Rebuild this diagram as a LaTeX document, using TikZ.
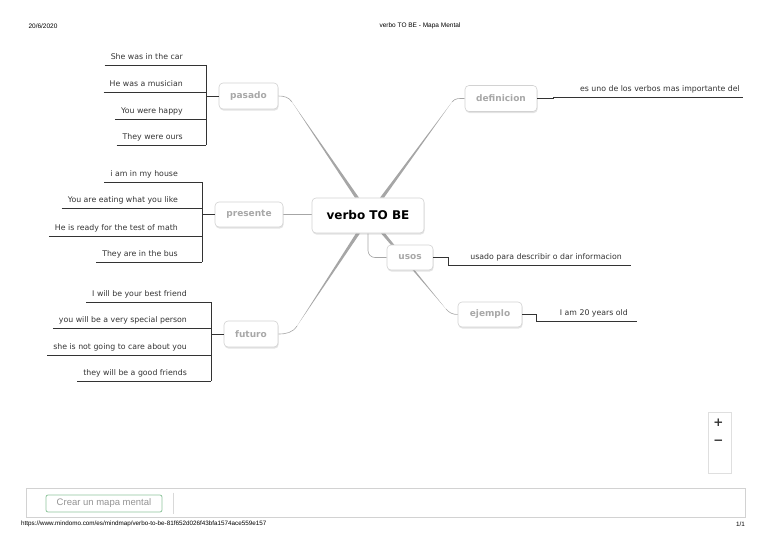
\documentclass[tikz,border=0pt]{standalone}
\usepackage{fontspec}
\setmainfont{DejaVu Sans}
\newfontfamily\arial{Liberation Sans}
\usetikzlibrary{shadows,backgrounds}

\definecolor{tinta}{HTML}{333333}
\definecolor{borde}{HTML}{D2D2D2}
\definecolor{grisrama}{HTML}{A6A6A6}
\definecolor{gristema}{HTML}{A8A8A8}
\definecolor{verdeboton}{HTML}{8DC49B}

\tikzset{
  caja/.style={draw=borde, fill=white, rounded corners=4pt, line width=0.6pt, inner sep=0pt,
    drop shadow={shadow xshift=0.6pt, shadow yshift=-1.6pt, opacity=0.22}},
  tema/.style={caja, text=gristema, font=\bfseries\fontsize{9}{10}\selectfont, minimum height=26pt},
  hoja/.style={text=tinta, font=\fontsize{7.8}{9}\selectfont, inner xsep=6pt, inner ysep=0pt,
    text height=6pt, text depth=5.5pt},
  raya/.style={draw=tinta, line width=0.75pt},
  ramagruesa/.style={fill=grisrama},
  ramafina/.style={draw=grisrama, line width=0.6pt},
}

\begin{document}
\begin{tikzpicture}[x=1pt, y=-1pt]
    \useasboundingbox (0,0) rectangle (768,543);

    % Cabecera
    \node[font=\arial\fontsize{6.5}{7}\selectfont, anchor=west] (fecha) at (25,26) {20/6/2020};
    \node[font=\arial\fontsize{6.5}{7}\selectfont] (titulo) at (420,26) {verbo TO BE - Mapa Mental};

    % Nodo central
    \node[caja, font=\bfseries\fontsize{12}{14}\selectfont, minimum width=112pt, minimum height=35pt]
        (centro) at (368,215.5) {verbo TO BE};

    % Temas
    \node[tema, minimum width=59pt] (pasado) at (248.5,96) {pasado};
    \node[tema, minimum width=72pt] (definicion) at (501,98.5) {definicion};
    \node[tema, minimum width=68pt, minimum height=25pt] (presente) at (249,214.5) {presente};
    \node[tema, minimum width=46pt, minimum height=25pt] (usos) at (410,257.5) {usos};
    \node[tema, minimum width=64pt, minimum height=25pt] (ejemplo) at (490,314.5) {ejemplo};
    \node[tema, minimum width=54pt] (futuro) at (251,334) {futuro};

    % Ramas desde el centro
    \begin{pgfonlayer}{background}
        \coordinate (cpas) at (292,102);
        \coordinate (cdef) at (452,102);
        \coordinate (cfut) at (297,326);
        \coordinate (ceje) at (446,309);

        \fill[ramagruesa] ([xshift=-13]centro.north) -- ([xshift=-9]centro.north) -- (cpas) -- cycle;
        \draw[ramafina] (cpas) to[out=124,in=0] (pasado.east);

        \fill[ramagruesa] ([xshift=12]centro.north) -- ([xshift=16]centro.north) -- (cdef) -- cycle;
        \draw[ramafina] (cdef) to[out=54,in=180] (definicion.west);

        \fill[ramagruesa] ([xshift=-12]centro.south) -- ([xshift=-8]centro.south) -- (cfut) -- cycle;
        \draw[ramafina] (cfut) to[out=-123,in=0] (futuro.east);

        \fill[ramagruesa] ([xshift=13]centro.south) -- ([xshift=17]centro.south) -- (ceje) -- cycle;
        \draw[ramafina] (ceje) to[out=-50,in=180] (ejemplo.west);

        \draw[ramafina] (presente.east) -- (presente.east -| centro.west);
        \draw[ramafina, rounded corners=7pt] (centro.south) |- (usos.west);
    \end{pgfonlayer}

    % Hojas de pasado
    \coordinate (barpas) at (206,0);
    \foreach \txt/\y [count=\i] in {She was in the car/65, He was a musician/92,
        You were happy/119, They were ours/145}{
        \node[hoja, anchor=south east] (pas\i) at (189,\y) {\txt};
        \draw[raya] (pas\i.south west) -- (pas\i.south west -| barpas);
    }
    \draw[raya] (pas1.south -| barpas) -- (pas4.south -| barpas);
    \draw[raya] (pasado.west) -- (pasado.west -| barpas);

    % Hojas de presente
    \coordinate (barpre) at (202,0);
    \foreach \txt/\y [count=\i] in {i am in my house/182, You are eating what you like/208,
        He is ready for the test of math/236, They are in the bus/262}{
        \node[hoja, anchor=south east] (pre\i) at (184,\y) {\txt};
        \draw[raya] (pre\i.south west) -- (pre\i.south west -| barpre);
    }
    \draw[raya] (pre1.south -| barpre) -- (pre4.south -| barpre);
    \draw[raya] (presente.west) -- (presente.west -| barpre);

    % Hojas de futuro
    \coordinate (barfut) at (211,0);
    \foreach \txt/\y [count=\i] in {I will be your best friend/302, you will be a very special person/328,
        she is not going to care about you/355, they will be a good friends/381}{
        \node[hoja, anchor=south east] (fut\i) at (193,\y) {\txt};
        \draw[raya] (fut\i.south west) -- (fut\i.south west -| barfut);
    }
    \draw[raya] (fut1.south -| barfut) -- (fut4.south -| barfut);
    \draw[raya] (futuro.west) -- (futuro.west -| barfut);

    % Hojas de la derecha
    \node[hoja, anchor=south east, inner xsep=3pt] (tdef) at (743,97) {es uno de los verbos mas importante del};
    \draw[raya] (definicion.east) -- ++(16,0) |- (tdef.south east);

    \node[hoja, anchor=south east, inner xsep=9pt] (tusos) at (631,265) {usado para describir o dar informacion};
    \draw[raya] (usos.east) -- ++(15,0) |- (tusos.south east);

    \node[hoja, anchor=south east, inner xsep=9pt] (teje) at (637,321) {I am 20 years old};
    \draw[raya] (ejemplo.east) -- ++(14,0) |- (teje.south east);

    % Zoom
    \node[draw=gray!25, minimum width=23pt, minimum height=61pt, inner sep=0pt] (zoomcaja) at (719.5,442.5) {};
    \node[text=tinta, font=\bfseries\fontsize{12}{12}\selectfont] (mas) at (718.5,423) {+};
    \node[text=tinta, font=\bfseries\fontsize{12}{12}\selectfont] (menos) at (718.5,442) {−};

    % Barra inferior
    \node[draw=gray!35, minimum width=719pt, minimum height=29pt, inner sep=0pt, anchor=north west]
        (barra) at (26,488) {};
    \node[draw=verdeboton, rounded corners=2pt, line width=0.8pt, minimum width=116pt, minimum height=17pt,
        inner sep=0pt, text=gray!85, font=\arial\fontsize{9.5}{10}\selectfont] (boton) at (104,503.5) {Crear un mapa mental};
    \draw[gray!30] ([xshift=11pt,yshift=2pt]boton.north east) -- ([xshift=11pt,yshift=-2pt]boton.south east);

    % Pie
    \node[font=\arial\fontsize{6.3}{7}\selectfont, anchor=west, inner sep=0pt] (url) at (21,524)
        {https://www.mindomo.com/es/mindmap/verbo-to-be-81f652d026f43bfa1574ace559e157};
    \node[font=\arial\fontsize{6.3}{7}\selectfont, anchor=east, inner sep=0pt] (pag) at (745,524) {1/1};

\end{tikzpicture}
\end{document}
